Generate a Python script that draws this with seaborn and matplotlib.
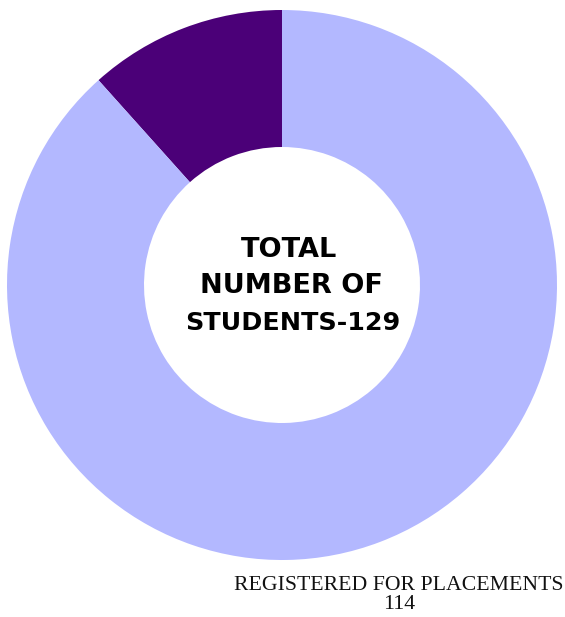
import matplotlib
matplotlib.use("Agg")
import matplotlib.pyplot as plt
import seaborn as sns

categories = ["NOT REGISTERED", "REGISTERED FOR PLACEMENTS"]
values = [15, 114]
total_lines = ["TOTAL", "NUMBER OF", "STUDENTS-129"]

sns.set_theme(style="white")
colors = sns.color_palette(["#4b0078", "#b3b8ff"])

W, H, DPI = 565, 617, 100
fig = plt.figure(figsize=(W / DPI, H / DPI), dpi=DPI)
ax = fig.add_axes([0, 0, 1, 1])
cx, cy = 282, 285
ax.pie(values, colors=colors, startangle=90, counterclock=True, radius=275,
       center=(0, 0), wedgeprops=dict(width=137, linewidth=0), frame=True)
ax.set_xlim(-cx, W - cx)
ax.set_ylim(-(H - cy), cy)
ax.set_aspect("equal", adjustable="box")
ax.axis("off")

line_pos = [(7, 28, 19.5), (9, -8, 19.5), (11, -45, 18.3)]
for txt, (x, y, fs) in zip(total_lines, line_pos):
    ax.text(x, y, txt, ha="center", va="baseline", fontsize=fs,
            fontweight="bold", family=["DejaVu Sans"], color="black")

ax.text(117, -310, f"{categories[1]}\n{values[1]}", ha="center", va="center",
        fontsize=15.7, family=["Liberation Serif", "DejaVu Serif"],
        linespacing=1.05, color="#111111")

fig.savefig("out.png", dpi=DPI)
